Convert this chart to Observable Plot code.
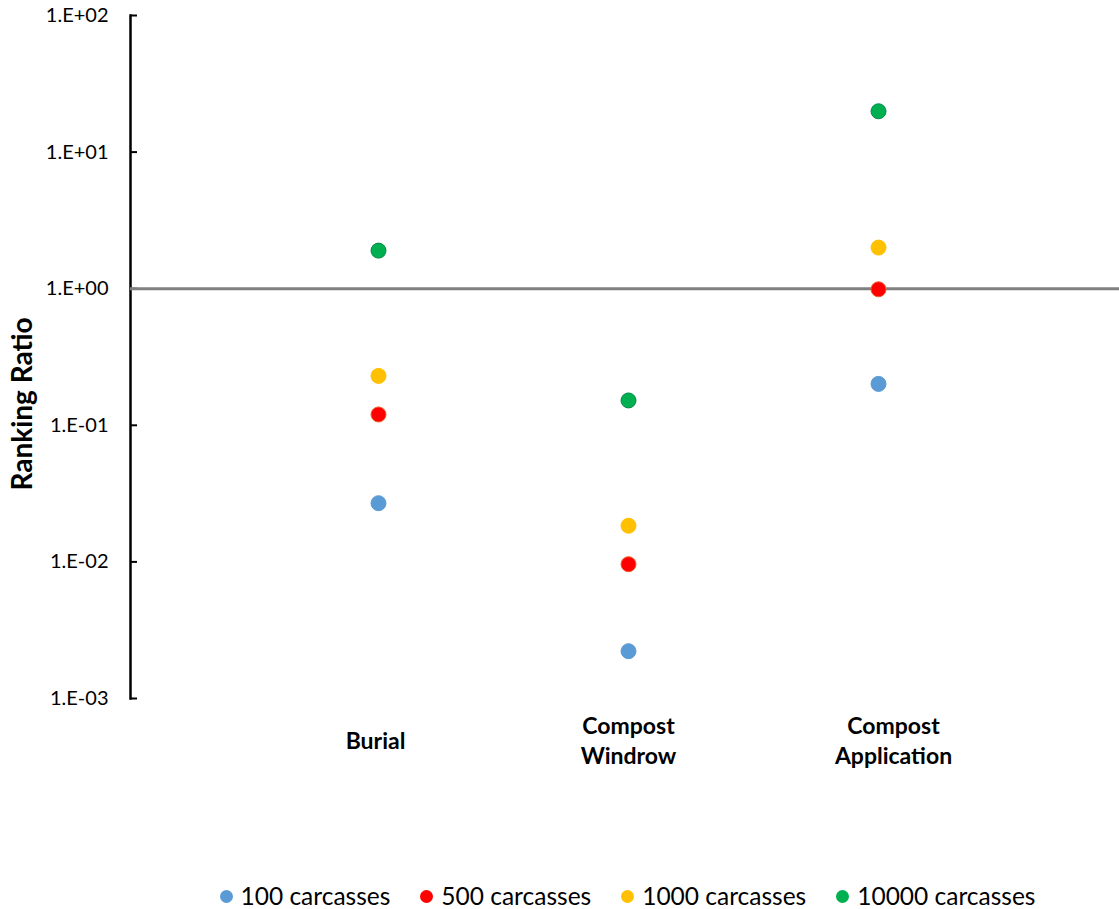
<!DOCTYPE html>
<html>
<head>
<meta charset="utf-8">
<script src="https://cdn.jsdelivr.net/npm/d3@7"></script>
<script src="https://cdn.jsdelivr.net/npm/@observablehq/plot@0.6"></script>
<style>
  html, body { margin: 0; padding: 0; background: #fff; }
  #chart { width: 1119px; font-family: Lato, "Open Sans", sans-serif; }
  #legend {
    display: flex; justify-content: center; align-items: center;
    padding-left: 136px; box-sizing: border-box; width: 1119px; height: 32px;
    font-family: Lato, sans-serif; font-size: 24.5px; line-height: 1; color: #000;
  }
  .item { display: flex; align-items: center; margin: 0 15px; }
  .swatch { width: 13px; height: 13px; border-radius: 50%; margin-right: 8px; }
</style>
</head>
<body>
<div id="chart"></div>
<script>
// Treatment methods along the x axis
const categories = ["Burial", "Compost Windrow", "Compost Application"];
// Herd sizes (one series each)
const series = ["100 carcasses", "500 carcasses", "1000 carcasses", "10000 carcasses"];
const seriesColors = ["#5B9BD5", "#FF0000", "#FFC000", "#00B050"];
const seriesStrokes = ["#5B9BD5", "#F05A28", "#FFC000", "#00894A"];
// Ranking ratio per method, one array per herd size
const ratio100 = [0.0269, 0.00222, 0.201];
const ratio500 = [0.120, 0.00962, 0.99];
const ratio1000 = [0.230, 0.0184, 2.0];
const ratio10000 = [1.90, 0.152, 19.9];
// Decade ticks on the log axis
const yTicks = [1e-3, 1e-2, 1e-1, 1e0, 1e1, 1e2];

const seriesValues = [ratio100, ratio500, ratio1000, ratio10000];
const points = series.flatMap((s, si) =>
  categories.map((c, ci) => ({series: s, index: ci + 1, category: c, value: seriesValues[si][ci]}))
);

const fmtExp = d => {
  const e = Math.round(Math.log10(d));
  return "1.E" + (e < 0 ? "-" : "+") + String(Math.abs(e)).padStart(2, "0");
};

// Horizontal nudge of each category label, in pixels
const labelNudge = [-3, 0, 15];

const W = 1119, H = 880;
const chart = Plot.plot({
  width: W,
  height: H,
  marginLeft: 130,
  marginRight: 0,
  marginTop: 15,
  marginBottom: H - 698,
  style: {fontFamily: "Lato, 'Open Sans', sans-serif", color: "#000", background: "#fff", overflow: "visible"},
  x: {type: "linear", domain: [0, 4], range: [128, 1128], axis: null},
  y: {type: "log", domain: [1e-3, 1e2], axis: null},
  color: {domain: series, range: seriesColors},
  marks: [
    // tick labels
    Plot.axisY(yTicks, {anchor: "left", label: null, tickSize: 0, tickPadding: 22, tickFormat: fmtExp, fontSize: 20, textAnchor: "end"}),
    // inward tick marks
    Plot.ruleY(yTicks, {stroke: "#000", strokeWidth: 2, insetRight: W - 130 - 7}),
    // vertical axis line
    Plot.frame({anchor: "left", stroke: "#000", strokeWidth: 2.5}),
    // reference line at ratio 1
    Plot.ruleY([1], {stroke: "#808080", strokeWidth: 3}),
    Plot.dot(points, {
      x: "index", y: "value", r: 7.5,
      fill: "series",
      stroke: d => seriesStrokes[series.indexOf(d.series)],
      strokeWidth: 1
    }),
    // category labels under the plot
    ...categories.map((c, i) => Plot.text([c], {
      x: () => i + 1,
      text: d => d.replace(" ", "\n"),
      frameAnchor: "bottom",
      dy: 41,
      dx: labelNudge[i],
      lineAnchor: "middle",
      lineHeight: 1.28,
      fontSize: 23,
      fontWeight: "bold",
      fill: "#000"
    })),
    // y axis title
    Plot.text(["Ranking Ratio"], {
      frameAnchor: "left",
      textAnchor: "middle",
      dx: -107,
      dy: 47,
      rotate: -90,
      fontSize: 28,
      fontWeight: "bold",
      fill: "#000"
    })
  ]
});
document.getElementById("chart").append(chart);

const legend = document.createElement("div");
legend.id = "legend";
series.forEach((s, i) => {
  const item = document.createElement("div");
  item.className = "item";
  const sw = document.createElement("span");
  sw.className = "swatch";
  sw.style.background = seriesColors[i];
  const label = document.createElement("span");
  label.textContent = s;
  item.append(sw, label);
  legend.append(item);
});
document.getElementById("chart").append(legend);
</script>
</body>
</html>
